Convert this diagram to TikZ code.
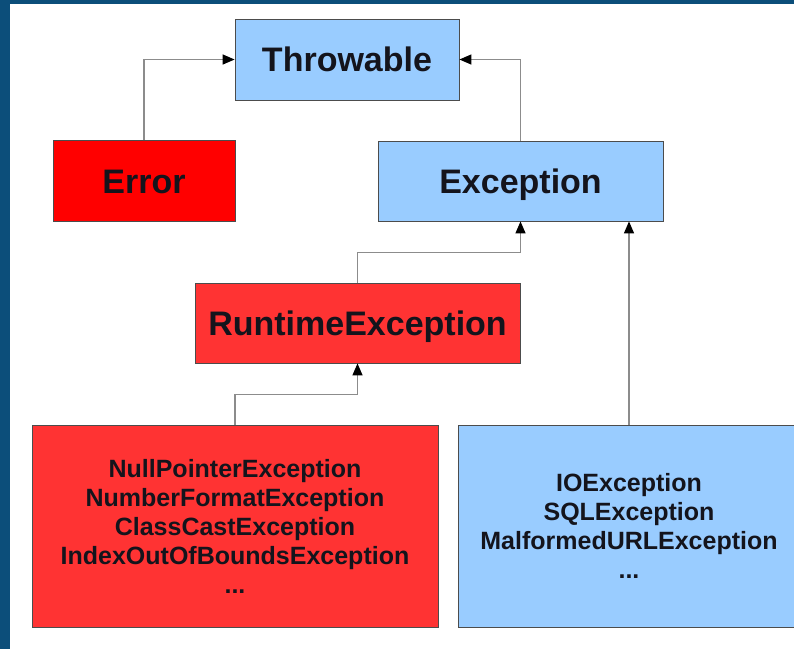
\documentclass[tikz,border=0pt]{standalone}
\usepackage{fontspec}
\setmainfont{Liberation Sans}
\usetikzlibrary{arrows.meta, positioning}

\definecolor{frameblue}{RGB}{12,78,122}
\definecolor{lightblue}{RGB}{153,204,255}
\definecolor{brightred}{RGB}{255,0,0}
\definecolor{softred}{RGB}{255,51,51}
\definecolor{inktext}{RGB}{20,20,28}

\tikzset{
    classbox/.style={draw=black!70, line width=0.8pt, inner sep=0pt,
        text=inktext, font=\fontsize{34}{40}\selectfont\bfseries,
        text height=24.5pt, text depth=0pt},
    listbox/.style={draw=black!70, line width=0.8pt, inner sep=0pt,
        text=inktext, align=center,
        font=\fontsize{25}{29}\selectfont\bfseries},
    link/.style={draw=black!45, line width=1.3pt,
        -{Triangle[length=12pt, width=10pt, color=black]}},
}

\begin{document}
\begin{tikzpicture}[x=1pt, y=-1pt]
    % frame of the slide
    \useasboundingbox (0,0) rectangle (794,649);
    \fill[white] (0,0) rectangle (794,649);
    \fill[frameblue] (0,0) rectangle (10,649);
    \fill[frameblue] (0,0) rectangle (794,3.5);
    \clip (0,0) rectangle (794,649);

    % classes
    \node[classbox, fill=lightblue, minimum width=224, minimum height=81]
        (throwable) at (347,59.5) {Throwable};
    \node[classbox, fill=brightred, minimum width=182, minimum height=81]
        (error) at (144,181) {Error};
    \node[classbox, fill=lightblue, minimum width=285, minimum height=80]
        (exception) at (520.5,181) {Exception};
    \node[classbox, fill=softred, minimum width=325, minimum height=80]
        (runtime) at (357.5,323) {RuntimeException};
    \node[listbox, fill=softred, minimum width=406, minimum height=202]
        (unchecked) at (235,526) {NullPointerException\\NumberFormatException\\
        ClassCastException\\IndexOutOfBoundsException\\...};
    \node[listbox, fill=lightblue, minimum width=342, minimum height=202]
        (checked) at (629,526) {IOException\\SQLException\\
        MalformedURLException\\...};

    % inheritance
    \draw[link] (error.north) |- (throwable.west);
    \draw[link] (exception.north) |- (throwable.east);
    \draw[link] (runtime.north) -- ++(0,-30) -| (exception.south);
    \draw[link] (unchecked.north) -- ++(0,-30) -| (runtime.south);
    \draw[link] (checked.north) -- (checked.north |- exception.south);
\end{tikzpicture}
\end{document}
